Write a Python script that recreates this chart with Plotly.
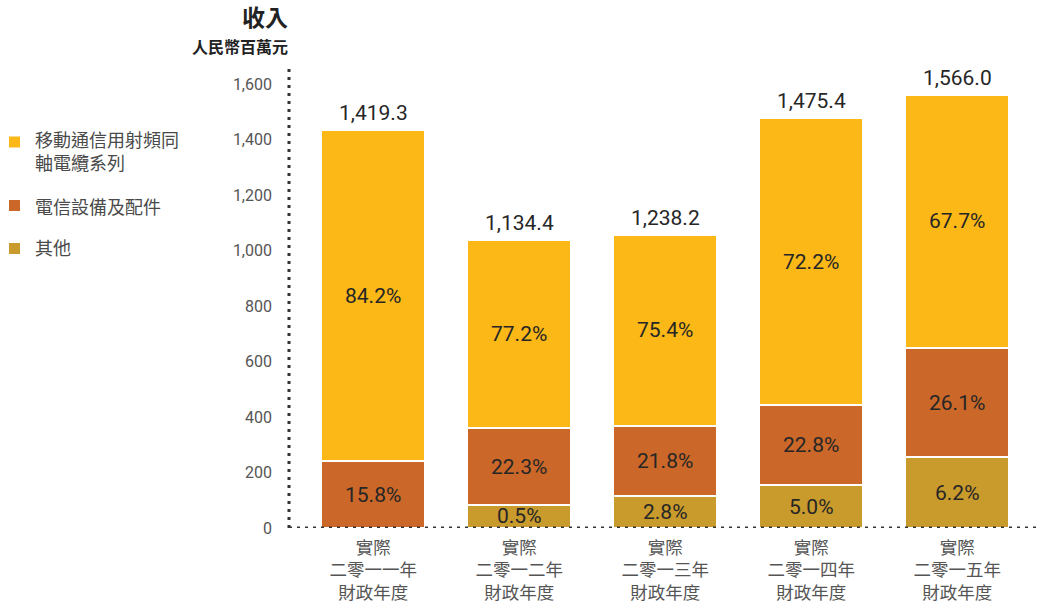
import plotly.graph_objects as go

# ---------------- data ----------------
categories = [
    "實際<br>二零一一年<br>財政年度",
    "實際<br>二零一二年<br>財政年度",
    "實際<br>二零一三年<br>財政年度",
    "實際<br>二零一四年<br>財政年度",
    "實際<br>二零一五年<br>財政年度",
]
# series listed bottom -> top of the stack
series_names = ["其他", "電信設備及配件", "移動通信用射頻同<br>軸電纜系列"]
series_colors = ["#C99A2C", "#CB6829", "#FBB817"]

# drawn segment heights (RMB million)
other_vals = [None, 83, 116, 154, 255]
telecom_vals = [241, 277, 253, 289, 394]
rf_vals = [1193, 678, 687, 1034, 912]

# printed share labels (%)
other_pct = [None, 0.5, 2.8, 5.0, 6.2]
telecom_pct = [15.8, 22.3, 21.8, 22.8, 26.1]
rf_pct = [84.2, 77.2, 75.4, 72.2, 67.7]

# printed totals
totals = [1419.3, 1134.4, 1238.2, 1475.4, 1566.0]

y_ticks = [0, 200, 400, 600, 800, 1000, 1200, 1400, 1600]

title_main = "收入"
title_unit = "人民幣百萬元"

# ---------------- figure ----------------
FONT = "Roboto, 'Noto Sans CJK TC', sans-serif"
values = [other_vals, telecom_vals, rf_vals]
pcts = [other_pct, telecom_pct, rf_pct]

fig = go.Figure()
for name, col, vals in zip(series_names, series_colors, values):
    fig.add_trace(go.Bar(
        x=categories, y=vals, name=name, width=0.712,
        marker=dict(color=col, line=dict(color="white", width=2)),
        showlegend=False, hoverinfo="skip",
    ))

annotations = []
# percentage labels centred in each segment
for i, cat in enumerate(categories):
    base = 0
    for vals, pc in zip(values, pcts):
        v = vals[i]
        if v is None:
            continue
        if pc[i] is not None:
            annotations.append(dict(
                x=cat, y=base + v / 2, xref="x", yref="y",
                text=f"{pc[i]:.1f}%", showarrow=False,
                font=dict(family=FONT, size=21, color="#262626"),
                yanchor="middle",
            ))
        base += v
    # total label above the bar
    annotations.append(dict(
        x=cat, y=base, xref="x", yref="y",
        text=f"{totals[i]:,.1f}", showarrow=False,
        font=dict(family=FONT, size=21, color="#262626"),
        yanchor="bottom", yshift=3,
    ))

# pixel -> paper helpers (plot area: x 289..1040, y 64..528)
L, R, T, B = 289, 1040, 64, 528
def px(xp):
    return (xp - L) / (R - L)
def py(yp):
    return (B - yp) / (B - T)

# titles
annotations.append(dict(x=0, y=py(19), xref="paper", yref="paper", xanchor="right",
                        yanchor="middle", xshift=1, showarrow=False,
                        text=f"<b>{title_main}</b>",
                        font=dict(family=FONT, size=23, color="#222222")))
annotations.append(dict(x=0, y=py(47), xref="paper", yref="paper", xanchor="right",
                        yanchor="middle", xshift=1, showarrow=False,
                        text=f"<b>{title_unit}</b>",
                        font=dict(family=FONT, size=16, color="#222222")))

shapes = []
# custom legend (top -> bottom : reverse of stack order)
legend_sq_centres = [142, 205.5, 248.5]
legend_txt_centres = [152, 207, 248]
for k, idx in enumerate([2, 1, 0]):
    c = legend_sq_centres[k]
    shapes.append(dict(type="rect", xref="paper", yref="paper",
                       x0=px(9), x1=px(20), y0=py(c + 5.5), y1=py(c - 5.5),
                       fillcolor=series_colors[idx], line=dict(width=0)))
    annotations.append(dict(x=px(33), y=py(legend_txt_centres[k]), xref="paper", yref="paper",
                            xanchor="left", yanchor="middle", align="left", showarrow=False,
                            text=series_names[idx],
                            font=dict(family=FONT, size=18, color="#4a4a4a")))

# dotted axes
dot = dict(color="#333333", width=3, dash="3px,5px")
shapes.append(dict(type="line", xref="paper", yref="paper", x0=0, x1=0, y0=0, y1=1,
                   line=dot, layer="above"))
shapes.append(dict(type="line", xref="paper", yref="y", x0=0, x1=1, y0=0, y1=0,
                   line=dot, layer="above"))

fig.update_layout(
    barmode="stack",
    width=1043, height=604,
    margin=dict(l=L, r=1043 - R, t=T, b=604 - B, autoexpand=False),
    paper_bgcolor="white", plot_bgcolor="white",
    font=dict(family=FONT),
    showlegend=False,
    annotations=annotations,
    shapes=shapes,
    xaxis=dict(type="category", range=[-0.577, 4.567], showgrid=False, zeroline=False,
               showline=False, ticks="", ticklabelstandoff=7,
               tickfont=dict(family=FONT, size=17.5, color="#555555"),
               fixedrange=True),
    yaxis=dict(range=[0, 1672], tickvals=y_ticks, ticktext=[f"{v:,}" for v in y_ticks],
               showgrid=False, zeroline=False, showline=False, ticks="",
               ticklabelstandoff=16,
               tickfont=dict(family=FONT, size=16, color="#555555"), fixedrange=True),
)

fig.write_html("out.html")
